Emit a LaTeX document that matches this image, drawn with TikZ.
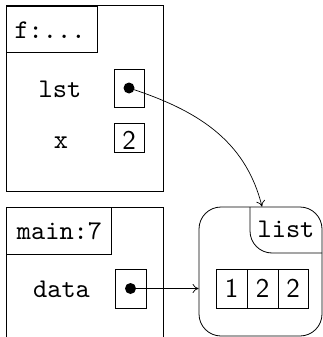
\documentclass[tikz,border=0pt]{standalone}
\usepackage{fontspec}
\setmonofont{lmmono10-regular.otf}
\setsansfont{lmsans10-regular.otf}
\usetikzlibrary{arrows.meta}
\begin{document}
\begin{tikzpicture}[x=1pt,y=-1pt,line width=0.8pt,
  box/.style={draw,rectangle,inner sep=0pt,minimum width=#1},
  lbl/.style={anchor=base,inner sep=0pt,font=\fontsize{27}{32}\selectfont\ttfamily},
  num/.style={anchor=base,inner sep=0pt,font=\fontsize{27}{32}\selectfont\sffamily},
  dotnode/.style={circle,fill,inner sep=0pt,minimum size=11pt},
  ptr/.style={-{To[length=6pt,width=9pt]},line width=0.7pt}]
\useasboundingbox (0,0) rectangle (323,337);
% f frame
\node[box=157pt,minimum height=186pt] (fframe) at (84.5,98.5) {};
\node[box=91pt,minimum height=46pt] (flabelbox) at (51.5,29) {};
\node[lbl] (flabel) at (50,38) {f:...};
\node[lbl] (lsttxt) at (60,97) {lst};
\node[box=30pt,minimum height=38pt] (lstbox) at (129,88) {};
\node[dotnode] (lstdot) at (lstbox.center) {};
\node[lbl] (xtxt) at (61,148) {x};
\node[box=30pt,minimum height=29pt] (xbox) at (129,137.5) {};
\node[num] (xval) at (129,149) {2};
% main frame
\node[box=157pt,minimum height=160pt] (mframe) at (84.5,287) {};
\node[box=105pt,minimum height=47pt] (mlabelbox) at (58.5,230.5) {};
\node[lbl] (mlabel) at (59.5,239) {main:7};
\node[lbl] (datatxt) at (61.5,297) {data};
\node[box=31pt,minimum height=39pt] (databox) at (130.5,288.5) {};
\node[dotnode] (datadot) at (databox.center) {};
% list object
\node[draw,rectangle,rounded corners=22pt,inner sep=0pt,minimum width=123pt,minimum height=129pt] (lframe) at (260.5,271.5) {};
\draw[rounded corners=22pt] (250,207) -- (250,253) -- (322,253);
\node[lbl] (ltxt) at (286,237) {list};
\node[box=31pt,minimum height=39pt] (c1) at (231.5,288.5) {};
\node[box=31pt,minimum height=39pt] (c2) at (262.5,288.5) {};
\node[box=30pt,minimum height=39pt] (c3) at (293,288.5) {};
\node[num] (v1) at (c1.center |- 0,297) {1};
\node[num] (v2) at (c2.center |- 0,297) {2};
\node[num] (v3) at (c3.center |- 0,297) {2};
% pointers
\draw[ptr] (lstdot.center) to[out=-18,in=104] ([xshift=1.5pt]lframe.north);
\draw[ptr] (datadot.center) -- (lframe.west |- datadot.center);
\end{tikzpicture}
\end{document}
